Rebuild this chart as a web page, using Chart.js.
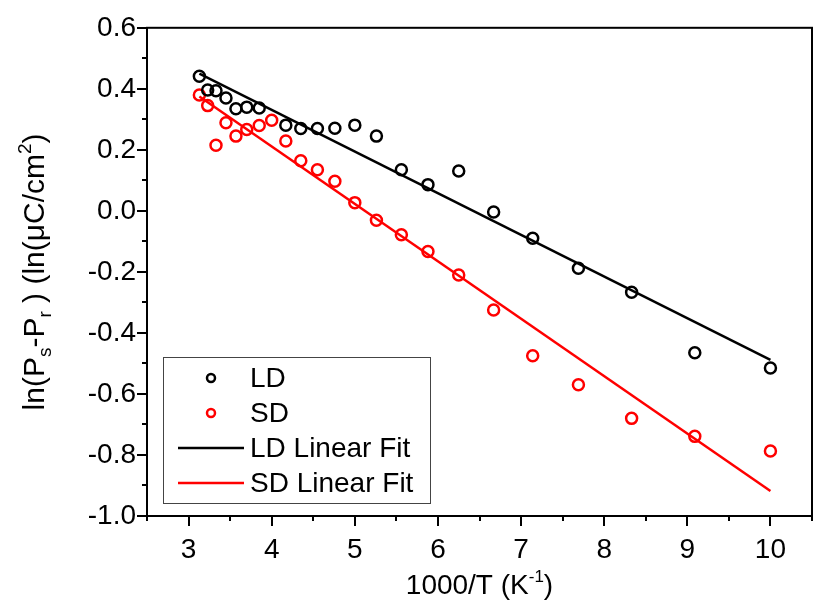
<!DOCTYPE html>
<html>
<head>
<meta charset="utf-8">
<script src="https://cdn.jsdelivr.net/npm/chart.js@4/dist/chart.umd.min.js"></script>
<style>
  html, body { margin: 0; padding: 0; background: #fff; }
  #wrap { width: 820px; height: 609px; position: relative; }
</style>
</head>
<body>
<div id="wrap"><canvas id="fitChart"></canvas></div>
<script>
// 1000/T values (K^-1) and ln(Ps-Pr) for both samples
const ldX = [3.13, 3.23, 3.33, 3.45, 3.57, 3.70, 3.85, 4.17, 4.35, 4.55, 4.76, 5.00, 5.26, 5.56, 5.88, 6.25, 6.67, 7.14, 7.69, 8.33, 9.09, 10.0];
const ldY = [0.441, 0.396, 0.394, 0.370, 0.335, 0.340, 0.337, 0.281, 0.270, 0.270, 0.271, 0.281, 0.245, 0.135, 0.086, 0.131, -0.004, -0.090, -0.188, -0.267, -0.465, -0.515];

const sdX = [3.13, 3.23, 3.33, 3.45, 3.57, 3.70, 3.85, 4.00, 4.17, 4.35, 4.55, 4.76, 5.00, 5.26, 5.56, 5.88, 6.25, 6.67, 7.14, 7.69, 8.33, 9.09, 10.0];
const sdY = [0.380, 0.345, 0.215, 0.289, 0.245, 0.267, 0.280, 0.297, 0.229, 0.164, 0.135, 0.097, 0.027, -0.031, -0.078, -0.133, -0.210, -0.325, -0.475, -0.570, -0.680, -0.739, -0.787];

// linear fit end points
const ldFitX = [3.13, 10.0];
const ldFitY = [0.450, -0.488];
const sdFitX = [3.13, 10.0];
const sdFitY = [0.375, -0.918];

// axis ticks
const xTicks = [3, 4, 5, 6, 7, 8, 9, 10];
const xMinor = [2.5, 3.5, 4.5, 5.5, 6.5, 7.5, 8.5, 9.5, 10.5];
const yTicks = [-1.0, -0.8, -0.6, -0.4, -0.2, 0.0, 0.2, 0.4, 0.6];
const yMinor = [-0.9, -0.7, -0.5, -0.3, -0.1, 0.1, 0.3, 0.5];

const FONT = '"Liberation Sans", Arial, sans-serif';

function toPoints(xs, ys) {
    return xs.map((x, i) => ({ x: x, y: ys[i] }));
}

// draws a line of text where some parts are sub- or superscript
function drawRich(ctx, parts, size) {
    const small = Math.round(size * 0.62);
    let total = 0;
    parts.forEach(p => {
        ctx.font = (p.sub || p.sup ? small : size) + 'px ' + FONT;
        p.w = ctx.measureText(p.t).width;
        total += p.w;
    });
    let x = -total / 2;
    parts.forEach(p => {
        ctx.font = (p.sub || p.sup ? small : size) + 'px ' + FONT;
        let dy = 0;
        if (p.sub) dy = size * 0.22;
        if (p.sup) dy = -size * 0.42;
        ctx.fillText(p.t, x, dy);
        x += p.w;
    });
}

// frame, tick marks and axis titles
const framePlugin = {
    id: 'frame',
    afterDraw(chart) {
        const ctx = chart.ctx;
        const a = chart.chartArea;
        const xs = chart.scales.x;
        const ys = chart.scales.y;
        ctx.save();
        ctx.strokeStyle = '#000';
        ctx.lineWidth = 2;
        ctx.strokeRect(a.left, a.top, a.right - a.left, a.bottom - a.top);

        ctx.beginPath();
        xTicks.forEach(v => {
            const px = Math.round(xs.getPixelForValue(v));
            ctx.moveTo(px, a.bottom); ctx.lineTo(px, a.bottom + 10);
        });
        xMinor.forEach(v => {
            const px = Math.round(xs.getPixelForValue(v));
            ctx.moveTo(px, a.bottom); ctx.lineTo(px, a.bottom + 5);
        });
        yTicks.forEach(v => {
            const py = Math.round(ys.getPixelForValue(v));
            ctx.moveTo(a.left, py); ctx.lineTo(a.left - 10, py);
        });
        yMinor.forEach(v => {
            const py = Math.round(ys.getPixelForValue(v));
            ctx.moveTo(a.left, py); ctx.lineTo(a.left - 5, py);
        });
        ctx.stroke();

        ctx.fillStyle = '#000';
        ctx.textBaseline = 'alphabetic';
        ctx.textAlign = 'left';

        // x title
        ctx.save();
        ctx.translate((a.left + a.right) / 2, 594);
        drawRich(ctx, [{ t: '1000/T (K' }, { t: '-1', sup: true }, { t: ')' }], 28);
        ctx.restore();

        // y title
        ctx.save();
        ctx.translate(44, (a.top + a.bottom) / 2);
        ctx.rotate(-Math.PI / 2);
        drawRich(ctx, [
            { t: 'ln(P' }, { t: 's', sub: true }, { t: '-P' }, { t: 'r', sub: true },
            { t: ' ) (ln(\u03BCC/cm' }, { t: '2', sup: true }, { t: ')' }
        ], 30);
        ctx.restore();
        ctx.restore();
    }
};

// boxed legend in the lower left of the plot
const legendPlugin = {
    id: 'boxLegend',
    afterDraw(chart) {
        const ctx = chart.ctx;
        const left = 163, top = 357, right = 430, bottom = 503;
        ctx.save();
        ctx.fillStyle = '#fff';
        ctx.fillRect(left, top, right - left, bottom - top);
        ctx.strokeStyle = '#444';
        ctx.lineWidth = 1;
        ctx.strokeRect(left + 0.5, top + 0.5, right - left, bottom - top);

        ctx.font = '28px ' + FONT;
        ctx.textBaseline = 'middle';
        ctx.textAlign = 'left';
        ctx.fillStyle = '#000';
        const rowY = [378, 413, 448, 483];
        chart.data.datasets.forEach((ds, i) => {
            const y = rowY[i];
            ctx.strokeStyle = ds.borderColor;
            ctx.lineWidth = 2.5;
            ctx.beginPath();
            if (ds.showLine) {
                ctx.moveTo(178, y);
                ctx.lineTo(244, y);
            } else {
                ctx.arc(211, y, 4, 0, Math.PI * 2);
            }
            ctx.stroke();
            ctx.fillStyle = '#000';
            ctx.fillText(ds.label, 250, y + 1);
        });
        ctx.restore();
    }
};

let fitChart = null;

function chizFitChart() {
    const ctx = document.getElementById('fitChart').getContext('2d');
    if (fitChart) {
        fitChart.destroy();
    }
    fitChart = new Chart(ctx, {
        type: 'scatter',
        data: {
            datasets: [{
                label: 'LD',
                data: toPoints(ldX, ldY),
                borderColor: '#000',
                backgroundColor: 'rgba(0,0,0,0)',
                pointRadius: 5.5,
                pointBorderWidth: 2.5,
                showLine: false
            }, {
                label: 'SD',
                data: toPoints(sdX, sdY),
                borderColor: '#ff0000',
                backgroundColor: 'rgba(0,0,0,0)',
                pointRadius: 5.5,
                pointBorderWidth: 2.5,
                showLine: false
            }, {
                label: 'LD Linear Fit',
                data: toPoints(ldFitX, ldFitY),
                borderColor: '#000',
                borderWidth: 2.5,
                pointRadius: 0,
                showLine: true
            }, {
                label: 'SD Linear Fit',
                data: toPoints(sdFitX, sdFitY),
                borderColor: '#ff0000',
                borderWidth: 2.5,
                pointRadius: 0,
                showLine: true
            }]
        },
        options: {
            responsive: false,
            animation: false,
            layout: { padding: { top: 20, right: 1, left: 0, bottom: 0 } },
            plugins: {
                legend: { display: false },
                tooltip: { enabled: false }
            },
            scales: {
                x: {
                    type: 'linear',
                    min: 2.5,
                    max: 10.5,
                    afterBuildTicks: s => { s.ticks = xTicks.map(v => ({ value: v })); },
                    afterFit: s => { s.height = 93; },
                    grid: { display: false, drawTicks: false },
                    border: { display: false },
                    ticks: {
                        color: '#000',
                        padding: 17,
                        font: { family: FONT, size: 28 },
                        callback: v => String(v)
                    }
                },
                y: {
                    type: 'linear',
                    min: -1.0,
                    max: 0.6,
                    afterBuildTicks: s => { s.ticks = yTicks.map(v => ({ value: v })); },
                    afterFit: s => { s.width = 147; },
                    grid: { display: false, drawTicks: false },
                    border: { display: false },
                    ticks: {
                        color: '#000',
                        padding: 11,
                        font: { family: FONT, size: 28 },
                        callback: v => Number(v).toFixed(1)
                    }
                }
            }
        },
        plugins: [framePlugin, legendPlugin]
    });
}

document.getElementById('fitChart').width = 820;
document.getElementById('fitChart').height = 609;
chizFitChart();
</script>
</body>
</html>
